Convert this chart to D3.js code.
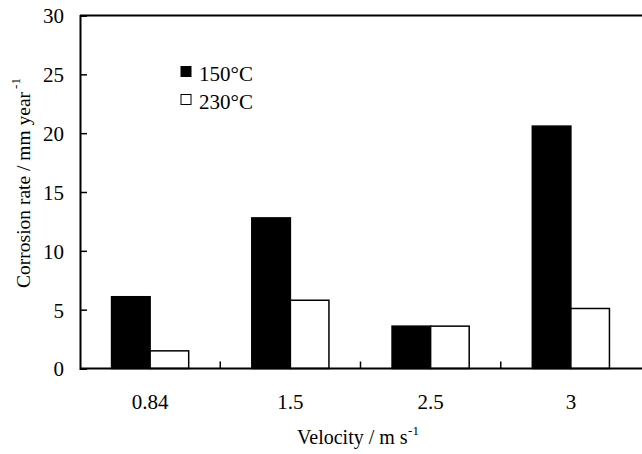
<!DOCTYPE html>
<html>
<head>
<meta charset="utf-8">
<script src="https://cdn.jsdelivr.net/npm/d3@7"></script>
<style>
body { margin: 0; background: #fff; }
svg text { font-family: "Liberation Serif", "Times New Roman", serif; fill: #000; }
</style>
</head>
<body>
<svg id="chart" width="642" height="454"></svg>
<script>
// data
var velocities = ["0.84", "1.5", "2.5", "3"];
var series = ["150°C", "230°C"];
var rate150 = [6.1, 12.8, 3.6, 20.6];
var rate230 = [1.5, 5.8, 3.6, 5.1];
var yTicks = [0, 5, 10, 15, 20, 25, 30];

var serif = '"Liberation Serif", "Times New Roman", serif';
var margin = { top: 15.5, right: 1, bottom: 85.5, left: 80 };
var width = 642 - margin.left - margin.right;
var height = 454 - margin.top - margin.bottom;

var svg = d3.select("#chart");
var g = svg.append("g")
    .attr("transform", "translate(" + margin.left + "," + margin.top + ")");

var x = d3.scaleBand().domain(velocities).range([0, width]).paddingInner(0).paddingOuter(0);
var xs = d3.scaleBand().domain(series).range([x.bandwidth() * 0.225, x.bandwidth() * 0.775]);
var y = d3.scaleLinear().domain([0, 30]).range([height, 0]);

var colors = { "150°C": "#000", "230°C": "#fff" };

// bars
var rows = velocities.map(function(v, i){
    return { v: v, vals: [{ s: series[0], val: rate150[i] }, { s: series[1], val: rate230[i] }] };
});

var grp = g.selectAll("g.grp").data(rows).enter().append("g")
    .attr("class", "grp")
    .attr("transform", function(d){ return "translate(" + x(d.v) + ",0)"; });

grp.selectAll("rect").data(function(d){ return d.vals; }).enter().append("rect")
    .attr("x", function(d){ return xs(d.s); })
    .attr("width", xs.bandwidth())
    .attr("y", function(d){ return y(d.val); })
    .attr("height", function(d){ return height - y(d.val); })
    .attr("fill", function(d){ return colors[d.s]; })
    .attr("stroke", "#000")
    .attr("stroke-width", 1.5);

// frame top line
g.append("line")
    .attr("x1", 0).attr("x2", width + 1)
    .attr("y1", 0).attr("y2", 0)
    .attr("stroke", "#000").attr("stroke-width", 2);

// y axis
var yAxis = d3.axisLeft(y).tickValues(yTicks).tickSize(-7).tickPadding(16);
var ya = g.append("g").call(yAxis).attr("font-family", serif);
ya.select(".domain").attr("stroke-width", 2);
ya.selectAll(".tick line").attr("stroke-width", 1.5);
ya.selectAll("text").style("font-size", "21px").attr("dy", "0.35em");

// x axis: ticks between groups
var xa = g.append("g").attr("transform", "translate(0," + height + ")");
xa.append("line")
    .attr("x1", 0).attr("x2", width + 1)
    .attr("stroke", "#000").attr("stroke-width", 2);
xa.selectAll("line.sep").data(velocities.slice(1)).enter().append("line")
    .attr("class", "sep")
    .attr("x1", function(d){ return x(d); })
    .attr("x2", function(d){ return x(d); })
    .attr("y1", 0).attr("y2", -7)
    .attr("stroke", "#000").attr("stroke-width", 1.5);
xa.selectAll("text.lbl").data(velocities).enter().append("text")
    .attr("class", "lbl")
    .attr("x", function(d){ return x(d) + x.bandwidth() / 2; })
    .attr("y", 40.5)
    .attr("text-anchor", "middle")
    .style("font-size", "21px")
    .text(function(d){ return d; });

// axis titles
var xt = svg.append("text")
    .attr("x", 358).attr("y", 444)
    .attr("text-anchor", "middle")
    .style("font-size", "20px");
xt.append("tspan").text("Velocity / m s");
xt.append("tspan").attr("dx", 0.5).attr("dy", -9).style("font-size", "13px").text("-1");

var yt = svg.append("text")
    .attr("transform", "translate(30,183) rotate(-90)")
    .attr("text-anchor", "middle")
    .style("font-size", "19.5px");
yt.append("tspan").text("Corrosion rate / mm year");
yt.append("tspan").attr("dx", 3).attr("dy", -10).style("font-size", "13px").text("-1");

// legend
var leg = svg.append("g").attr("transform", "translate(181,66.5)");
var li = leg.selectAll("g").data(series).enter().append("g")
    .attr("transform", function(d, i){ return "translate(0," + (i * 28) + ")"; });
li.append("rect")
    .attr("width", 10).attr("height", 10)
    .attr("fill", function(d){ return colors[d]; })
    .attr("stroke", "#000").attr("stroke-width", 1);
li.append("text")
    .attr("x", 18).attr("y", 14)
    .style("font-size", "21px")
    .text(function(d){ return d; });
</script>
</body>
</html>
